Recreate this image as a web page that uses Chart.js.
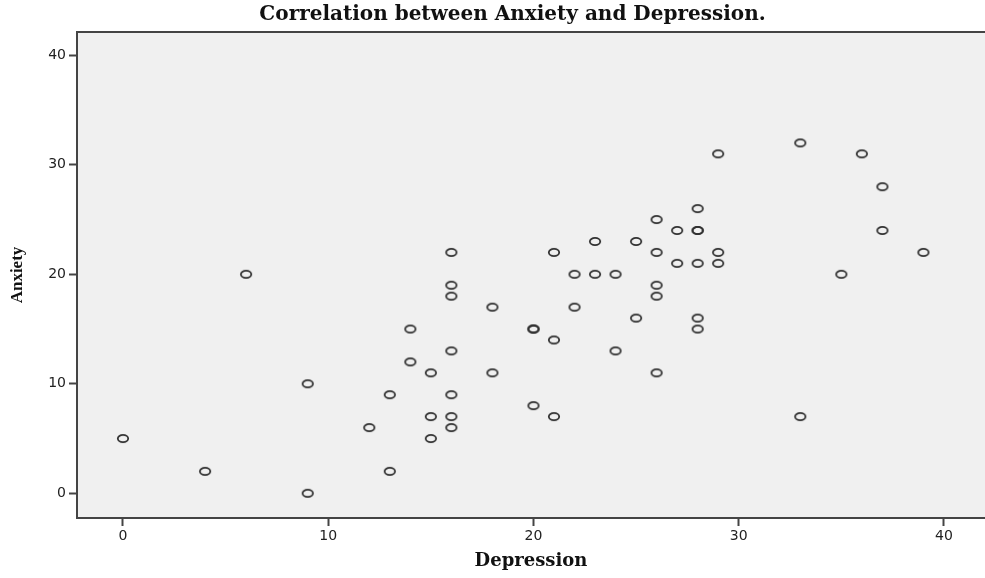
<!DOCTYPE html>
<html>
<head>
<meta charset="utf-8">
<title>Correlation between Anxiety and Depression</title>
<script src="https://cdn.jsdelivr.net/npm/chart.js@4/dist/chart.umd.min.js"></script>
<style>
    html, body { margin: 0; padding: 0; background: #ffffff; }
    #wrap { position: relative; width: 985px; height: 578px; }
</style>
</head>
<body>
<div id="wrap"><canvas id="scatterChart"></canvas></div>
<script>
// Chart data (one entry per respondent)
const depression = [0, 4, 6, 9, 9, 12, 13, 13, 14, 14, 15, 15, 15, 16, 16, 16, 16, 16, 16, 16,
    18, 18, 20, 20, 20, 21, 21, 21, 22, 22, 23, 23, 24, 24, 25, 25, 26, 26, 26, 26, 26,
    27, 27, 28, 28, 28, 28, 28, 28, 29, 29, 29, 33, 33, 35, 36, 37, 37, 39];
const anxiety = [5, 2, 20, 10, 0, 6, 9, 2, 15, 12, 11, 7, 5, 22, 19, 18, 13, 9, 7, 6,
    17, 11, 15, 15, 8, 22, 14, 7, 20, 17, 23, 20, 20, 13, 23, 16, 25, 22, 19, 18, 11,
    24, 21, 26, 24, 24, 21, 16, 15, 31, 22, 21, 32, 7, 20, 31, 28, 24, 22];
const xTicks = [0, 10, 20, 30, 40];
const yTicks = [0, 10, 20, 30, 40];

const chartTitle = 'Correlation between Anxiety and Depression.';
const xTitle = 'Depression';
const yTitle = 'Anxiety';

// Hollow ellipse marker like the SPSS one
function makeMarker() {
    const c = document.createElement('canvas');
    c.width = 14;
    c.height = 11;
    const ctx = c.getContext('2d');
    ctx.strokeStyle = '#303030';
    ctx.lineWidth = 1.8;
    ctx.beginPath();
    ctx.ellipse(7, 5.5, 5.2, 3.6, 0, 0, Math.PI * 2);
    ctx.stroke();
    return c;
}

// Grey plot background + top frame line
const plotFrame = {
    id: 'plotFrame',
    afterLayout(chart) {
        // title sits a bit right of the canvas centre in the original
        if (chart.titleBlock) {
            chart.titleBlock.left = 40;
            chart.titleBlock.right = chart.width;
        }
    },
    beforeDraw(chart) {
        const { ctx, chartArea: a } = chart;
        ctx.save();
        ctx.fillStyle = '#f0f0f0';
        ctx.fillRect(a.left, a.top, a.right - a.left, a.bottom - a.top);
        ctx.strokeStyle = '#444444';
        ctx.lineWidth = 2;
        ctx.beginPath();
        ctx.moveTo(a.left, a.top);
        ctx.lineTo(a.right, a.top);
        ctx.stroke();
        ctx.restore();
    }
};

function axisOptions(min, max, tickList, title, isY) {
    return {
        type: 'linear',
        min: min,
        max: max,
        afterBuildTicks: scale => {
            scale.ticks = tickList.map(v => ({ value: v }));
        },
        afterFit: scale => {
            if (isY) {
                scale.width = 77;
            } else {
                scale.height = 60;
                scale.paddingLeft = 0;
                scale.paddingRight = 0;
            }
        },
        grid: {
            display: true,
            drawOnChartArea: false,
            drawTicks: true,
            tickLength: 8,
            tickColor: '#444444',
            tickWidth: 2
        },
        border: { display: true, color: '#444444', width: 2 },
        ticks: {
            color: '#222222',
            padding: isY ? 3 : 2,
            font: { family: 'DejaVu Sans', size: 14 }
        },
        title: {
            display: true,
            text: title,
            color: '#111111',
            font: isY
                ? { family: 'Liberation Serif', size: 17, weight: 'bold' }
                : { family: 'DejaVu Serif', size: 18, weight: 'bold' },
            padding: isY ? { top: 7, bottom: 0 } : { top: 0, bottom: 6 }
        }
    };
}

// Build scatter chart
function createScatterChart() {
    const ctx = document.getElementById('scatterChart').getContext('2d');
    const points = depression.map((d, i) => ({ x: d, y: anxiety[i] }));

    new Chart(ctx, {
        type: 'scatter',
        data: {
            datasets: [{
                label: 'Anxiety',
                data: points,
                pointStyle: makeMarker(),
                pointRadius: 6,
                pointHoverRadius: 6
            }]
        },
        options: {
            responsive: true,
            maintainAspectRatio: false,
            animation: false,
            layout: { padding: 0, autoPadding: false },
            plugins: {
                legend: { display: false },
                tooltip: { enabled: false },
                title: {
                    display: true,
                    text: chartTitle,
                    color: '#111111',
                    font: { family: 'DejaVu Serif', size: 20, weight: 'bold' },
                    padding: { top: 3, bottom: 5 }
                }
            },
            scales: {
                x: axisOptions(-2.24, 42.0, xTicks, xTitle, false),
                y: axisOptions(-2.26, 42.13, yTicks, yTitle, true)
            }
        },
        plugins: [plotFrame]
    });
}

document.addEventListener('DOMContentLoaded', () => {
    createScatterChart();
});
</script>
</body>
</html>
